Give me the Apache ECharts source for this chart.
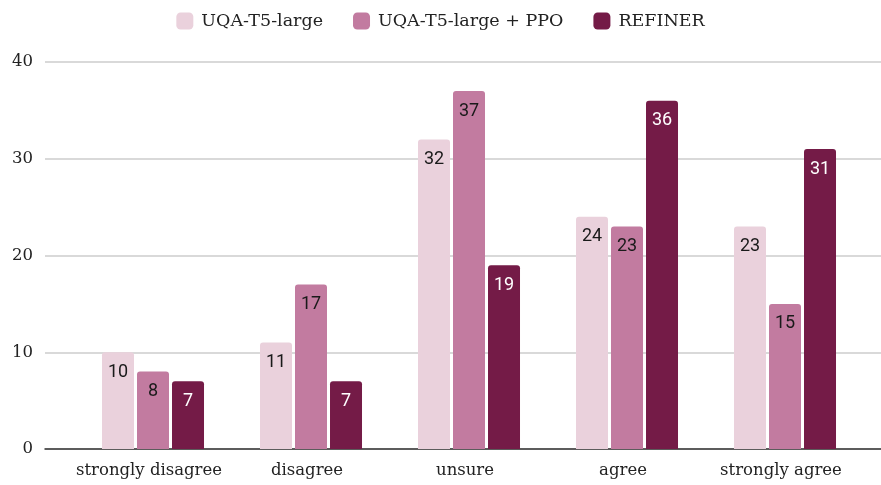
<!DOCTYPE html>
<html><head><meta charset="utf-8">
<script src="https://cdn.jsdelivr.net/npm/echarts@6/dist/echarts.min.js"></script>
<style>html,body{margin:0;padding:0;background:#fff}#c{width:881px;height:485px}</style>
</head><body><div id="c"></div>
<script>
const categories = ['strongly disagree', 'disagree', 'unsure', 'agree', 'strongly agree'];
const seriesNames = ['UQA-T5-large', 'UQA-T5-large + PPO', 'REFINER'];
const uqa = [10, 11, 32, 24, 23];
const uqaPpo = [8, 17, 37, 23, 15];
const refiner = [7, 7, 19, 36, 31];
const yTicks = [0, 10, 20, 30, 40];

const colors = ['#ead1dc', '#c27ba0', '#741b47'];
const labelColors = ['#1a1a1a', '#1a1a1a', '#ffffff'];
const serif = '"DejaVu Serif", "Liberation Serif", serif';
const values = [uqa, uqaPpo, refiner];

const chart = echarts.init(document.getElementById('c'));
chart.setOption({
  animation: false,
  legend: {
    top: 7, left: 'center', itemWidth: 17, itemHeight: 17, itemGap: 30,
    icon: 'roundRect',
    textStyle: { fontFamily: serif, fontSize: 17.5, color: '#222', padding: [0, 0, 0, 3] },
    data: seriesNames
  },
  grid: [
    { left: 45, right: 0, top: 62, bottom: 36 },
    { left: 74, width: 790, top: 62, bottom: 36 }
  ],
  xAxis: [
    { gridIndex: 0, type: 'category', data: [''], axisLine: { lineStyle: { color: '#333', width: 1.5 } },
      axisTick: { show: false }, axisLabel: { show: false } },
    { gridIndex: 1, type: 'category', data: categories, axisLine: { show: false }, axisTick: { show: false },
      axisLabel: { fontFamily: serif, fontSize: 16.5, color: '#222', margin: 13, interval: 0, padding: [0, 8, 0, 0] } }
  ],
  yAxis: [
    { gridIndex: 0, type: 'value', min: yTicks[0], max: yTicks[yTicks.length - 1], interval: 10,
      axisLine: { show: false }, axisTick: { show: false },
      splitLine: { lineStyle: { color: '#cccccc', width: 1.5 } },
      axisLabel: { fontFamily: serif, fontSize: 16.5, color: '#222', margin: 12 } },
    { gridIndex: 1, type: 'value', min: yTicks[0], max: yTicks[yTicks.length - 1], interval: 10,
      show: false, splitLine: { show: false } }
  ],
  series: seriesNames.map((name, i) => ({
    name, type: 'bar', xAxisIndex: 1, yAxisIndex: 1,
    data: values[i], barWidth: 32, barGap: '9.4%',
    itemStyle: { color: colors[i], borderRadius: [3, 3, 0, 0] },
    label: { show: true, position: 'insideTop', distance: 11,
      fontFamily: 'Roboto', fontSize: 18, color: labelColors[i] }
  }))
});
</script></body></html>
